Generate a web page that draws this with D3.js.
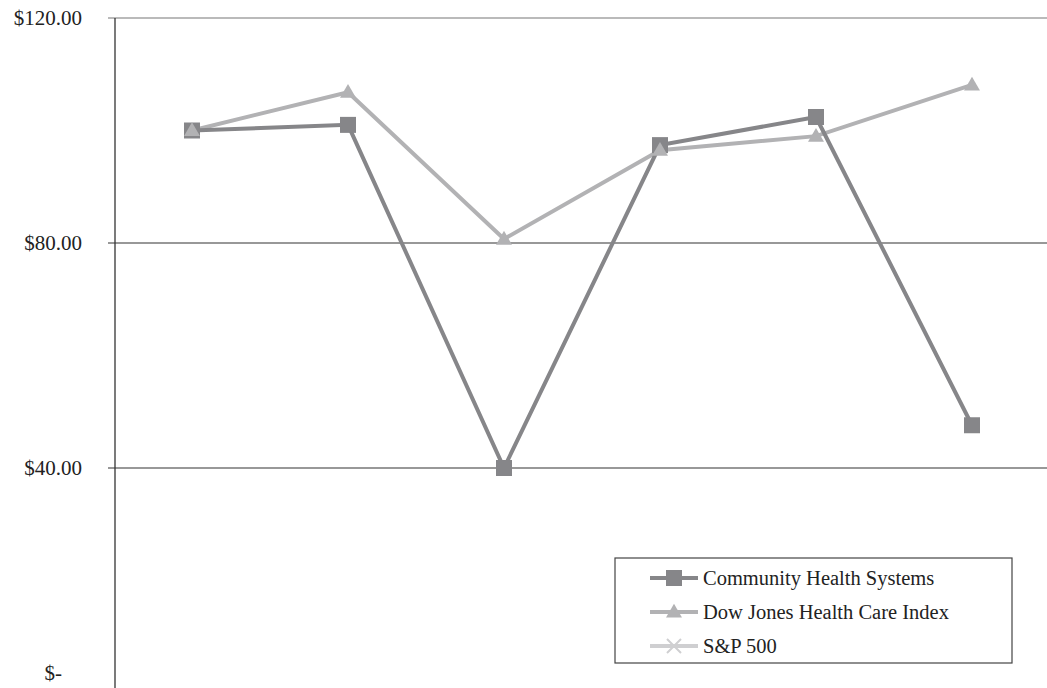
<!DOCTYPE html>
<html>
<head>
<meta charset="utf-8">
<script src="https://cdn.jsdelivr.net/npm/d3@7"></script>
<style>
  body { margin: 0; background: #fff; }
  svg text { font-family: "Liberation Serif", "Times New Roman", serif; fill: #222; }
</style>
</head>
<body>
<div id="chart"></div>
<script>
// periods (no axis labels shown in the picture)
var periods = ["P0", "P1", "P2", "P3", "P4", "P5"];
var chsValues = [100.0, 101.0, 40.0, 97.4, 102.4, 47.6];
var djValues = [100.0, 106.8, 80.7, 96.5, 99.0, 108.1];
var spValues = []; // not drawn in the picture
var yTicks = [0, 40, 80, 120];
var seriesNames = ["Community Health Systems", "Dow Jones Health Care Index", "S&P 500"];

var width = 1047, height = 688;
var margin = {left: 115, top: 18};

var svg = d3.select("#chart").append("svg")
    .attr("width", width)
    .attr("height", height);

var x = d3.scalePoint()
    .domain(periods)
    .range([192, 972]);

var y = d3.scaleLinear()
    .domain([0, 120])
    .range([693, margin.top]);

// gridlines
svg.append("g")
    .selectAll("line")
    .data(yTicks.filter(function (d) { return d > 0; }))
    .enter().append("line")
    .attr("x1", 108)
    .attr("x2", width)
    .attr("y1", function (d) { return y(d); })
    .attr("y2", function (d) { return y(d); })
    .attr("stroke", function (d) { return d === 120 ? "#777" : "#333"; })
    .attr("stroke-width", 1.2);

// y axis line
svg.append("line")
    .attr("x1", margin.left).attr("x2", margin.left)
    .attr("y1", y(120)).attr("y2", height)
    .attr("stroke", "#333")
    .attr("stroke-width", 1.3);

// tick labels
svg.append("g")
    .selectAll("text")
    .data(yTicks)
    .enter().append("text")
    .attr("x", function (d) { return d === 0 ? 62 : 82; })
    .attr("y", function (d) { return d === 0 ? 680 : y(d) + 7; })
    .attr("text-anchor", "end")
    .style("font-size", "21px")
    .text(function (d) { return d === 0 ? "$-" : "$" + d.toFixed(2); });

var line = d3.line()
    .x(function (d, i) { return x(periods[i]); })
    .y(function (d) { return y(d); });

var chsColor = "#868689", djColor = "#b2b2b4", spColor = "#cfcfd1";

// Dow Jones line first (behind), then CHS squares
svg.append("path")
    .datum(djValues)
    .attr("d", line)
    .attr("fill", "none")
    .attr("stroke", djColor)
    .attr("stroke-width", 4);

svg.append("path")
    .datum(chsValues)
    .attr("d", line)
    .attr("fill", "none")
    .attr("stroke", chsColor)
    .attr("stroke-width", 4);

svg.append("g")
    .selectAll("rect")
    .data(chsValues)
    .enter().append("rect")
    .attr("x", function (d, i) { return x(periods[i]) - 8; })
    .attr("y", function (d) { return y(d) - 8; })
    .attr("width", 16)
    .attr("height", 16)
    .attr("fill", chsColor);

var tri = d3.symbol().type(d3.symbolTriangle).size(110);

svg.append("g")
    .selectAll("path")
    .data(djValues)
    .enter().append("path")
    .attr("d", tri)
    .attr("transform", function (d, i) {
        return "translate(" + x(periods[i]) + "," + (y(d) + 1) + ")";
    })
    .attr("fill", djColor);

svg.append("path")
    .datum(spValues)
    .attr("d", line)
    .attr("fill", "none")
    .attr("stroke", spColor)
    .attr("stroke-width", 4);

// legend
var legend = svg.append("g").attr("transform", "translate(615,558)");
legend.append("rect")
    .attr("width", 397)
    .attr("height", 105)
    .attr("fill", "#fff")
    .attr("stroke", "#444")
    .attr("stroke-width", 1.2);

var colors = [chsColor, djColor, spColor];
var item = legend.selectAll(".item")
    .data(seriesNames)
    .enter().append("g")
    .attr("class", "item")
    .attr("transform", function (d, i) { return "translate(0," + (20 + i * 34) + ")"; });

item.append("line")
    .attr("x1", 35).attr("x2", 83)
    .attr("stroke", function (d, i) { return colors[i]; })
    .attr("stroke-width", 4);

item.each(function (d, i) {
    var g = d3.select(this);
    if (i === 0) {
        g.append("rect").attr("x", 51).attr("y", -8).attr("width", 16).attr("height", 16)
            .attr("fill", colors[i]);
    } else if (i === 1) {
        g.append("path").attr("d", tri).attr("transform", "translate(59,1)")
            .attr("fill", colors[i]);
    } else {
        g.append("path").attr("d", "M-7,-7L7,7M-7,7L7,-7")
            .attr("transform", "translate(59,0)")
            .attr("stroke", colors[i]).attr("stroke-width", 2);
    }
});

item.append("text")
    .attr("x", 88)
    .attr("y", 7)
    .style("font-size", "20.5px")
    .text(function (d) { return d; });
</script>
</body>
</html>
